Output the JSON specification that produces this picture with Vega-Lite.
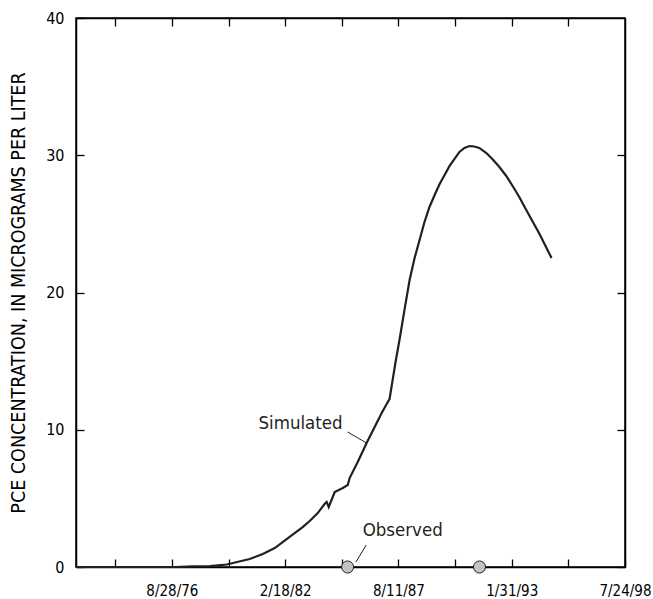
{
  "$schema": "https://vega.github.io/schema/vega-lite/v6.json",
  "width": 549,
  "height": 549,
  "autosize": "none",
  "padding": {"left": 76, "top": 18, "right": 28, "bottom": 32},
  "background": "white",
  "config": {
    "view": {"stroke": "#000000", "strokeWidth": 1.5},
    "font": "'Liberation Sans Narrow', 'DejaVu Sans Condensed', 'Liberation Sans', sans-serif",
    "axis": {
      "grid": false,
      "domainColor": "#000000",
      "domainWidth": 1.5,
      "tickColor": "#000000",
      "tickWidth": 1.3,
      "labelColor": "#000000",
      "labelFont": "'Liberation Sans Narrow', 'DejaVu Sans Condensed', 'Liberation Sans', sans-serif",
      "labelFontSize": 15,
      "titleFont": "'Liberation Sans Narrow', 'DejaVu Sans Condensed', 'Liberation Sans', sans-serif",
      "titleFontSize": 19.5,
      "titleFontWeight": "normal",
      "titleColor": "#000000",
      "labelOverlap": false,
      "labelFlush": false
    }
  },
  "datasets": {
    "sim": [
      {"date": "1972-01-08", "value": 0},
      {"date": "1976-10-20", "value": 0},
      {"date": "1977-09-02", "value": 0.04},
      {"date": "1978-06-28", "value": 0.07},
      {"date": "1979-04-23", "value": 0.18},
      {"date": "1980-06-02", "value": 0.58},
      {"date": "1981-01-19", "value": 0.95},
      {"date": "1981-08-18", "value": 1.38},
      {"date": "1982-05-08", "value": 2.19},
      {"date": "1982-12-24", "value": 2.91},
      {"date": "1983-04-27", "value": 3.35},
      {"date": "1983-09-16", "value": 3.93},
      {"date": "1984-01-15", "value": 4.59},
      {"date": "1984-02-20", "value": 4.74},
      {"date": "1984-03-28", "value": 4.37},
      {"date": "1984-07-12", "value": 5.46},
      {"date": "1984-12-02", "value": 5.76},
      {"date": "1985-02-27", "value": 5.97},
      {"date": "1985-04-01", "value": 6.48},
      {"date": "1985-08-22", "value": 7.65},
      {"date": "1986-01-26", "value": 9.03},
      {"date": "1986-06-17", "value": 10.2},
      {"date": "1986-10-19", "value": 11.22},
      {"date": "1987-01-15", "value": 11.88},
      {"date": "1987-03-07", "value": 12.24},
      {"date": "1987-04-30", "value": 13.62},
      {"date": "1987-06-21", "value": 14.94},
      {"date": "1987-08-29", "value": 16.54},
      {"date": "1987-11-25", "value": 18.72},
      {"date": "1988-02-24", "value": 20.91},
      {"date": "1988-05-22", "value": 22.51},
      {"date": "1988-08-18", "value": 23.83},
      {"date": "1988-11-13", "value": 25.14},
      {"date": "1989-02-09", "value": 26.23},
      {"date": "1989-05-11", "value": 27.1},
      {"date": "1989-08-07", "value": 27.9},
      {"date": "1989-11-03", "value": 28.56},
      {"date": "1990-01-30", "value": 29.22},
      {"date": "1990-04-27", "value": 29.73},
      {"date": "1990-07-23", "value": 30.24},
      {"date": "1990-10-19", "value": 30.53},
      {"date": "1991-01-15", "value": 30.67},
      {"date": "1991-04-12", "value": 30.64},
      {"date": "1991-07-09", "value": 30.53},
      {"date": "1991-11-10", "value": 30.16},
      {"date": "1992-02-24", "value": 29.73},
      {"date": "1992-06-27", "value": 29.14},
      {"date": "1992-10-27", "value": 28.49},
      {"date": "1993-02-27", "value": 27.69},
      {"date": "1993-06-13", "value": 26.96},
      {"date": "1993-10-15", "value": 26.01},
      {"date": "1994-01-30", "value": 25.21},
      {"date": "1994-06-06", "value": 24.26},
      {"date": "1994-09-20", "value": 23.39},
      {"date": "1995-01-04", "value": 22.51}
    ],
    "obs": [
      {"date": "1985-02-24", "value": 0},
      {"date": "1991-07-12", "value": 0}
    ],
    "leaders": [
      {"date": "1985-02-24", "date2": "1986-01-26", "value": 9.84, "value2": 9.03},
      {"date": "1985-07-20", "date2": "1986-01-19", "value": 0.35, "value2": 1.6}
    ],
    "labelR": [
      {"date": "1984-11-29", "value": 10.49, "label": "Simulated"}
    ],
    "labelL": [
      {"date": "1985-11-17", "value": 2.7, "label": "Observed"}
    ]
  },
  "layer": [
    {
      "data": {"name": "sim"},
      "mark": {"type": "line", "color": "#231f20", "strokeWidth": 2.2},
      "encoding": {
        "x": {
          "field": "date", "type": "temporal",
          "scale": {"type": "utc", "domain": [{"year": 1972, "month": 1, "date": 9, "utc": true}, {"year": 1998, "month": 7, "date": 24, "utc": true}], "nice": false},
          "axis": {
            "orient": "bottom", "title": null,
            "values": [
              {"year": 1973, "month": 12, "date": 2, "utc": true},
              {"year": 1976, "month": 8, "date": 28, "utc": true},
              {"year": 1979, "month": 5, "date": 25, "utc": true},
              {"year": 1982, "month": 2, "date": 18, "utc": true},
              {"year": 1984, "month": 11, "date": 14, "utc": true},
              {"year": 1987, "month": 8, "date": 11, "utc": true},
              {"year": 1990, "month": 5, "date": 7, "utc": true},
              {"year": 1993, "month": 1, "date": 31, "utc": true},
              {"year": 1995, "month": 10, "date": 28, "utc": true},
              {"year": 1998, "month": 7, "date": 24, "utc": true}
            ],
            "labelExpr": "indexof(['8/28/76','2/18/82','8/11/87','1/31/93','7/24/98'], utcFormat(datum.value, '%-m/%-d/%y')) >= 0 ? utcFormat(datum.value, '%-m/%-d/%y') : ''",
            "tickSize": -8,
            "labelPadding": 24
          }
        },
        "y": {
          "field": "value", "type": "quantitative",
          "scale": {"domain": [0, 40], "nice": false},
          "axis": {
            "orient": "left",
            "title": "PCE CONCENTRATION, IN MICROGRAMS PER LITER",
            "values": [0, 10, 20, 30, 40],
            "tickSize": -8,
            "labelFontSize": 16,
            "labelPadding": 20,
            "titlePadding": 17
          }
        }
      }
    },
    {
      "data": {"name": "leaders"},
      "mark": {"type": "rule", "color": "#231f20", "strokeWidth": 1},
      "encoding": {
        "x": {"field": "date", "type": "temporal", "axis": null},
        "x2": {"field": "date2"},
        "y": {"field": "value", "type": "quantitative", "axis": null},
        "y2": {"field": "value2"}
      }
    },
    {
      "data": {"name": "labelR"},
      "mark": {"type": "text", "fontSize": 18.5, "align": "right", "baseline": "middle", "color": "#231f20"},
      "encoding": {
        "x": {"field": "date", "type": "temporal", "axis": null},
        "y": {"field": "value", "type": "quantitative", "axis": null},
        "text": {"field": "label"}
      }
    },
    {
      "data": {"name": "labelL"},
      "mark": {"type": "text", "fontSize": 18.5, "align": "left", "baseline": "middle", "color": "#231f20"},
      "encoding": {
        "x": {"field": "date", "type": "temporal", "axis": null},
        "y": {"field": "value", "type": "quantitative", "axis": null},
        "text": {"field": "label"}
      }
    },
    {
      "data": {"name": "obs"},
      "mark": {"type": "point", "shape": "circle", "filled": false, "fill": "#c2c3c6", "fillOpacity": 1, "stroke": "#231f20", "strokeWidth": 1, "size": 145, "opacity": 1, "clip": false},
      "encoding": {
        "x": {
          "field": "date", "type": "temporal",
          "axis": {
            "orient": "top", "title": null, "labels": false,
            "values": [
              {"year": 1973, "month": 12, "date": 2, "utc": true},
              {"year": 1976, "month": 8, "date": 28, "utc": true},
              {"year": 1979, "month": 5, "date": 25, "utc": true},
              {"year": 1982, "month": 2, "date": 18, "utc": true},
              {"year": 1984, "month": 11, "date": 14, "utc": true},
              {"year": 1987, "month": 8, "date": 11, "utc": true},
              {"year": 1990, "month": 5, "date": 7, "utc": true},
              {"year": 1993, "month": 1, "date": 31, "utc": true},
              {"year": 1995, "month": 10, "date": 28, "utc": true}
            ],
            "tickSize": -8
          }
        },
        "y": {
          "field": "value", "type": "quantitative",
          "axis": {"orient": "right", "title": null, "labels": false, "values": [0, 10, 20, 30], "tickSize": -8}
        }
      }
    }
  ],
  "resolve": {"axis": {"x": "independent", "y": "independent"}}
}
